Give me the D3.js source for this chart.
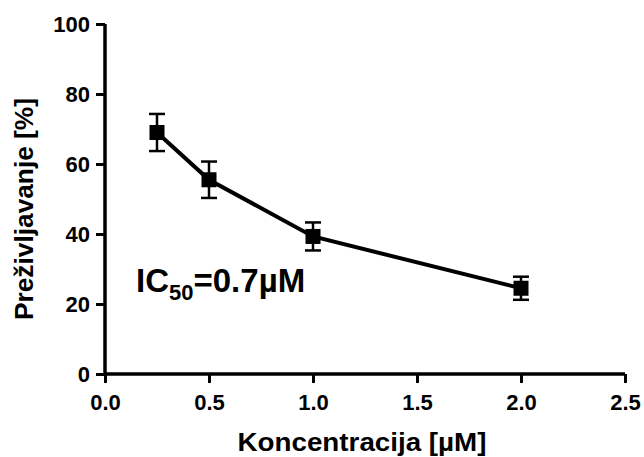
<!DOCTYPE html>
<html>
<head>
<meta charset="utf-8">
<script src="https://cdn.jsdelivr.net/npm/d3@7"></script>
<style>
  body { margin: 0; background: #fff; }
  svg text { font-family: "Liberation Sans", Arial, sans-serif; font-weight: bold; fill: #000; }
</style>
</head>
<body>
<div id="chart"></div>
<script>
// data
var concentrations = [0.25, 0.5, 1.0, 2.0];
var survival = [69, 55.5, 39.3, 24.5];
var survivalErr = [5.3, 5.2, 4.0, 3.3];
var xTicks = [0, 0.5, 1.0, 1.5, 2.0, 2.5];
var yTicks = [0, 20, 40, 60, 80, 100];

var width = 644,
    height = 457;

var svg = d3.select('#chart')
    .append('svg')
    .attr('width', width)
    .attr('height', height);

var x = d3.scaleLinear()
    .domain([0, 2.5])
    .range([105, 625]);

var y = d3.scaleLinear()
    .domain([0, 100])
    .range([374, 24]);

var points = concentrations.map(function(c, i) {
    return { x: c, y: survival[i], err: survivalErr[i] };
});

// axes
var xAxis = svg.append('g')
    .attr('transform', 'translate(0,' + y(0) + ')')
    .call(d3.axisBottom(x).tickValues(xTicks).tickFormat(d3.format('.1f')).tickSize(9).tickPadding(11));

var yAxis = svg.append('g')
    .attr('transform', 'translate(' + x(0) + ',0)')
    .call(d3.axisLeft(y).tickValues(yTicks).tickFormat(d3.format('d')).tickSize(9).tickPadding(6));

[xAxis, yAxis].forEach(function(a) {
    a.select('.domain')
        .attr('stroke', '#000')
        .attr('stroke-width', 3.5);
    a.selectAll('.tick line')
        .attr('stroke', '#000')
        .attr('stroke-width', 3);
    a.selectAll('.tick text')
        .attr('fill', '#000')
        .style('font-size', '22px');
});
xAxis.select('.domain').attr('d', 'M' + x(0) + ',0H' + x(2.5));
yAxis.select('.domain').attr('d', 'M0,' + y(0) + 'V' + y(100));

// line
var line = d3.line()
    .x(d => x(d.x))
    .y(d => y(d.y));

svg.append('path')
    .datum(points)
    .attr('d', line)
    .attr('fill', 'none')
    .attr('stroke', '#000')
    .attr('stroke-width', 4);

// error bars
var bars = svg.append('g')
    .selectAll('g')
    .data(points)
    .join('g')
    .attr('stroke', '#000')
    .attr('stroke-width', 2.5);

bars.append('line')
    .attr('x1', d => x(d.x))
    .attr('x2', d => x(d.x))
    .attr('y1', d => y(d.y + d.err))
    .attr('y2', d => y(d.y - d.err));

bars.append('line')
    .attr('x1', d => x(d.x) - 8)
    .attr('x2', d => x(d.x) + 8)
    .attr('y1', d => y(d.y + d.err))
    .attr('y2', d => y(d.y + d.err));

bars.append('line')
    .attr('x1', d => x(d.x) - 8)
    .attr('x2', d => x(d.x) + 8)
    .attr('y1', d => y(d.y - d.err))
    .attr('y2', d => y(d.y - d.err));

// markers
svg.append('g')
    .selectAll('rect')
    .data(points)
    .join('rect')
    .attr('x', d => x(d.x) - 7.5)
    .attr('y', d => y(d.y) - 7.5)
    .attr('width', 15)
    .attr('height', 15)
    .attr('fill', '#000');

// labels
svg.append('text')
    .attr('x', 362)
    .attr('y', 451)
    .attr('text-anchor', 'middle')
    .attr('textLength', 249)
    .attr('lengthAdjust', 'spacingAndGlyphs')
    .style('font-size', '25px')
    .text('Koncentracija [µM]');

svg.append('text')
    .attr('transform', 'translate(33,209) rotate(-90)')
    .attr('text-anchor', 'middle')
    .attr('textLength', 222)
    .attr('lengthAdjust', 'spacingAndGlyphs')
    .style('font-size', '25px')
    .text('Preživljavanje [%]');

var ic = svg.append('text')
    .attr('x', 136)
    .attr('y', 292)
    .style('font-size', '33px');
ic.append('tspan').text('IC');
ic.append('tspan').attr('dy', 8).style('font-size', '22px').text('50');
ic.append('tspan').attr('dy', -8).text('=0.7µM');
</script>
</body>
</html>
